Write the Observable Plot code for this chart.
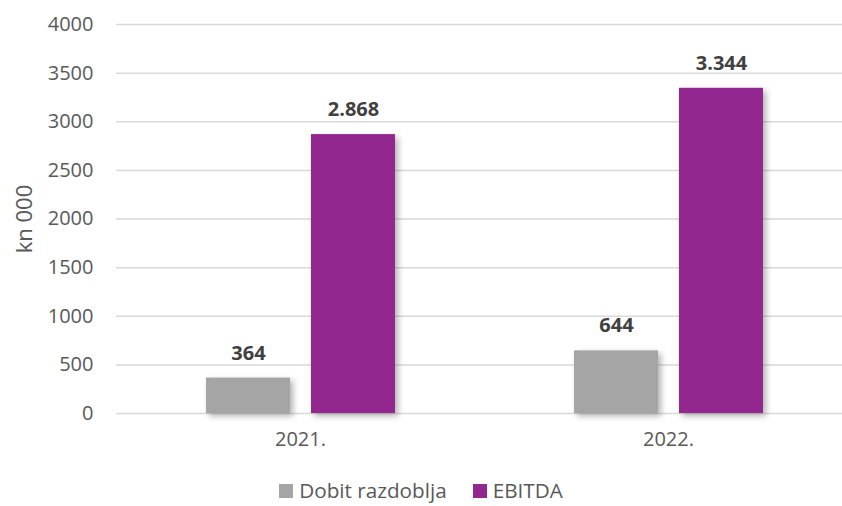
<!DOCTYPE html>
<html><head><meta charset="utf-8">
<script src="https://cdn.jsdelivr.net/npm/d3@7"></script>
<script src="https://cdn.jsdelivr.net/npm/@observablehq/plot@0.6"></script>
<style>
html,body{margin:0;padding:0;background:#fff;overflow:hidden;width:842px;height:506px;}
body{font-family:"Open Sans",sans-serif;}
#chart{width:842px;overflow:hidden;}
#chart svg{max-width:none !important;}
#legend{position:absolute;left:0;top:476px;height:29px;line-height:29px;width:842px;display:flex;justify-content:center;gap:26px;font-size:20.7px;color:#595959;font-family:"Open Sans",sans-serif;}
#legend span.item{display:flex;align-items:center;gap:6px;}
#legend i{display:inline-block;width:14px;height:14px;}
</style></head>
<body>
<div id="chart"></div>
<div id="legend"></div>
<script>
const years = ["2021.", "2022."];
const series = ["Dobit razdoblja", "EBITDA"];
const dobit = [364, 644];
const ebitda = [2868, 3344];
const colors = ["#A5A5A5", "#92278F"];
const yTicks = [0, 500, 1000, 1500, 2000, 2500, 3000, 3500, 4000];

const data = [];
years.forEach((y, i) => {
  data.push({year: y, series: series[0], value: dobit[i]});
  data.push({year: y, series: series[1], value: ebitda[i]});
});
const hr = d3.formatLocale({decimal: ",", thousands: ".", grouping: [3], currency: ["", " kn"]});
const fmt = hr.format(",d");

const chart = Plot.plot({
  width: 852, height: 465,
  marginLeft: 116, marginRight: 0, marginTop: 24, marginBottom: 52,
  style: {fontFamily: "Open Sans, sans-serif", fontSize: "20px", color: "#595959", background: "#fff", maxWidth: "none"},
  fx: {domain: years, padding: 0, label: null, axis: "bottom", tickSize: 0, tickPadding: 18},
  x: {domain: series, paddingInner: 0.2, paddingOuter: 0.852, axis: null},
  y: {domain: [0, 4000], ticks: yTicks, tickFormat: "d", tickSize: 0, tickPadding: 23, label: "kn 000", labelAnchor: "center", labelArrow: "none", labelOffset: 100},
  color: {domain: series, range: colors},
  marks: [
    Plot.gridY(yTicks, {stroke: "#d9d9d9", strokeOpacity: 1, strokeWidth: 1.5, facet: "exclude"}),
    Plot.barY(data, {fx: "year", x: "series", y: "value", fill: "series"}),
    Plot.text(data, {fx: "year", x: "series", y: "value", text: d => fmt(d.value), dy: -25, fontWeight: "bold", fontSize: 20, fill: "#404040"})
  ]
});
d3.select(chart).selectAll("g[aria-label=bar] rect").style("filter", "drop-shadow(3px 3px 3px rgba(0,0,0,0.3))");
d3.select(chart).selectAll("g[aria-label='y-axis label'] text").style("font-size", "22px");
document.getElementById("chart").append(chart);

const lg = document.getElementById("legend");
series.forEach((s, i) => {
  const it = document.createElement("span");
  it.className = "item";
  const sw = document.createElement("i");
  sw.style.background = colors[i];
  it.append(sw, document.createTextNode(s));
  lg.append(it);
});
</script>
</body></html>
